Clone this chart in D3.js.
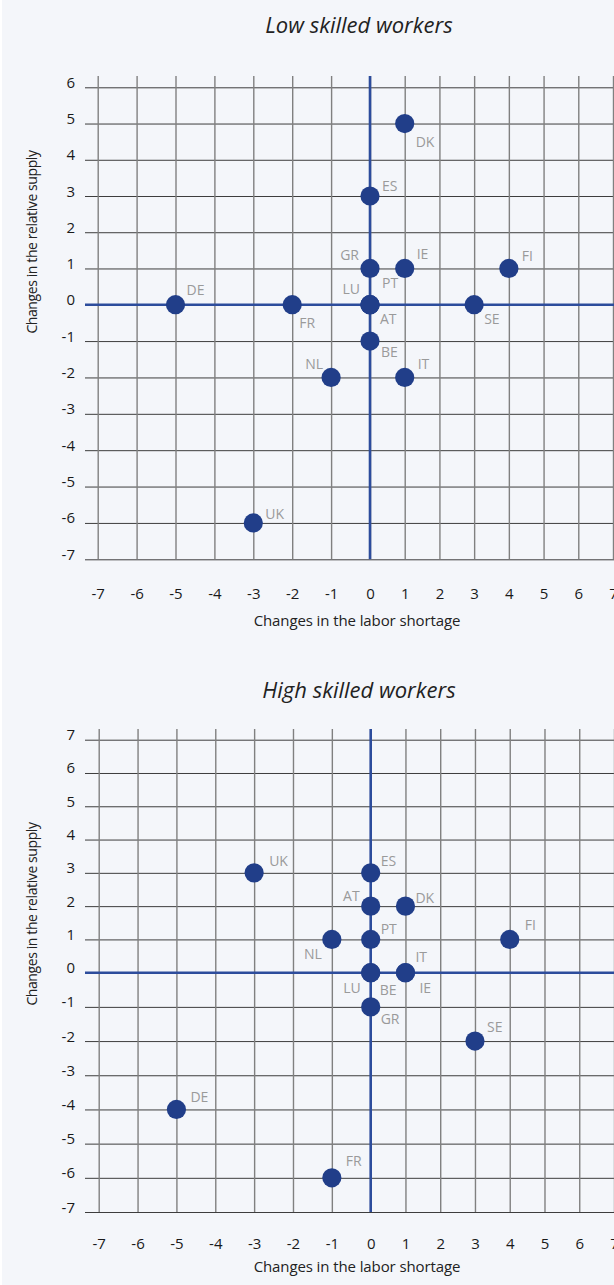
<!DOCTYPE html>
<meta charset="utf-8">
<style>
  body { margin: 0; background: #f4f6fa; }
  svg { display: block; }
  text { font-family: "Open Sans", sans-serif; }
</style>
<svg width="614" height="1285"></svg>
<script src="https://d3js.org/d3.v7.min.js"></script>
<script>
// tick labels
var ticksX = [-7, -6, -5, -4, -3, -2, -1, 0, 1, 2, 3, 4, 5, 6, 7];
var lowTicksY = [-7, -6, -5, -4, -3, -2, -1, 0, 1, 2, 3, 4, 5, 6];
var highTicksY = [-7, -6, -5, -4, -3, -2, -1, 0, 1, 2, 3, 4, 5, 6, 7];

// low skilled workers
var lowCountries = ["DK", "ES", "GR", "IE", "FI", "PT", "LU", "AT", "DE", "FR", "SE", "BE", "NL", "IT", "UK"];
var lowShortage  = [1, 0, 0, 1, 4, 0, 0, 0, -5, -2, 3, 0, -1, 1, -3];
var lowSupply    = [5, 3, 1, 1, 1, 0, 0, 0, 0, 0, 0, -1, -2, -2, -6];

// high skilled workers
var highCountries = ["UK", "ES", "AT", "DK", "PT", "NL", "FI", "LU", "BE", "IT", "IE", "GR", "SE", "DE", "FR"];
var highShortage  = [-3, 0, 0, 1, 0, -1, 4, 0, 0, 1, 1, 0, 3, -5, -1];
var highSupply    = [3, 3, 2, 2, 1, 1, 1, 0, 0, 0, 0, -1, -2, -4, -6];

var xTitle = "Changes in the labor shortage";
var yTitle = "Changes in the relative supply";

// where each country label sits next to its dot (dx < 0 means right-aligned)
var lowLabelPos = {
  DK: [11, 23], ES: [12, -5], GR: [-11, -8], IE: [12, -9], FI: [13, -7],
  PT: [12, -17], LU: [-10, -11], AT: [10, 19], DE: [11, -10], FR: [7, 23],
  SE: [10, 19], BE: [11, 16], NL: [-8, -8], IT: [13, -8], UK: [12, -4]
};
var highLabelPos = {
  UK: [15, -7], ES: [10, -7], AT: [-11, -5], DK: [10, -3], PT: [10, -5],
  NL: [-10, 20], FI: [15, -9], LU: [-10, 20], BE: [9, 22], IT: [10, -11],
  IE: [14, 20], GR: [10, 17], SE: [12, -9], DE: [14, -7], FR: [14, -12]
};

var svg = d3.select("svg");

svg.append("rect").attr("x", 0).attr("y", 0).attr("width", 2).attr("height", 1285).attr("fill", "#fff");

var panels = [
  {
    title: "Low skilled workers", titleY: 33,
    countries: lowCountries, sx: lowShortage, sy: lowSupply, labels: lowLabelPos,
    ticksY: lowTicksY,
    x: d3.scaleLinear().domain([-7, 0, 7]).range([97.7, 370, 613]),
    y: d3.scaleLinear().domain([-7, 0, 6]).range([559.3, 304.7, 87.3]),
    gridTop: 76, tickY: 599, xTitleY: 626, yTitleMid: 242
  },
  {
    title: "High skilled workers", titleY: 698,
    countries: highCountries, sx: highShortage, sy: highSupply, labels: highLabelPos,
    ticksY: highTicksY,
    x: d3.scaleLinear().domain([-7, 0, 7]).range([98.7, 370.7, 614]),
    y: d3.scaleLinear().domain([-7, 0, 7]).range([1212, 972.7, 739.7]),
    gridTop: 729, tickY: 1249, xTitleY: 1272, yTitleMid: 914
  }
];

var gridLeft = 85, gridRight = 614;
var fmt = function(d) { return String(d); }; // plain hyphen, as in the original

panels.forEach(function(p) {
  var g = svg.append("g");
  var bottom = p.y(-7);

  g.append("text")
    .attr("x", 359).attr("y", p.titleY)
    .attr("text-anchor", "middle")
    .attr("font-size", 22).attr("font-style", "italic")
    .attr("fill", "#222")
    .text(p.title);

  // horizontal grid + y tick labels
  var yAxis = g.append("g")
    .attr("transform", "translate(" + gridLeft + ",0)")
    .call(d3.axisLeft(p.y).tickValues(p.ticksY).tickSize(-(gridRight - gridLeft)).tickPadding(10).tickFormat(fmt));
  yAxis.select(".domain").remove();
  yAxis.selectAll("line").attr("stroke", "#3d3d3d").attr("stroke-width", 1);
  yAxis.selectAll("text").attr("dy", 0).attr("font-size", 15).attr("fill", "#1a1a1a")
    .attr("font-family", "'Open Sans', sans-serif");

  // vertical grid + x tick labels
  var xAxis = g.append("g")
    .attr("transform", "translate(0," + bottom + ")")
    .call(d3.axisBottom(p.x).tickValues(ticksX).tickSize(-(bottom - p.gridTop)).tickFormat(fmt));
  xAxis.select(".domain").remove();
  xAxis.selectAll("line").attr("stroke", "#808080").attr("stroke-width", 1.4);
  xAxis.selectAll("text").attr("y", p.tickY - bottom).attr("dy", 0).attr("font-size", 15).attr("fill", "#1a1a1a")
    .attr("font-family", "'Open Sans', sans-serif");

  // zero lines
  g.append("line")
    .attr("x1", gridLeft).attr("x2", gridRight)
    .attr("y1", p.y(0)).attr("y2", p.y(0))
    .attr("stroke", "#2c4c9c").attr("stroke-width", 2.6);
  g.append("line")
    .attr("x1", p.x(0)).attr("x2", p.x(0))
    .attr("y1", p.gridTop).attr("y2", bottom)
    .attr("stroke", "#2c4c9c").attr("stroke-width", 2.6);

  var idx = d3.range(p.countries.length);

  g.selectAll("circle.dot")
    .data(idx)
    .enter().append("circle")
    .attr("class", "dot")
    .attr("cx", function(i) { return p.x(p.sx[i]); })
    .attr("cy", function(i) { return p.y(p.sy[i]); })
    .attr("r", 9.6)
    .attr("fill", "#213e89");

  g.selectAll("text.lbl")
    .data(idx)
    .enter().append("text")
    .attr("class", "lbl")
    .attr("x", function(i) { return p.x(p.sx[i]) + p.labels[p.countries[i]][0]; })
    .attr("y", function(i) { return p.y(p.sy[i]) + p.labels[p.countries[i]][1]; })
    .attr("text-anchor", function(i) { return p.labels[p.countries[i]][0] < 0 ? "end" : "start"; })
    .attr("font-size", 14)
    .attr("fill", "#9a9a9a")
    .text(function(i) { return p.countries[i]; });

  // axis titles
  g.append("text")
    .attr("x", 357).attr("y", p.xTitleY)
    .attr("text-anchor", "middle")
    .attr("font-size", 15).attr("letter-spacing", -0.1)
    .attr("fill", "#222")
    .text(xTitle);

  g.append("text")
    .attr("transform", "translate(37," + p.yTitleMid + ") rotate(-90)")
    .attr("text-anchor", "middle")
    .attr("font-size", 14).attr("letter-spacing", -0.4)
    .attr("fill", "#222")
    .text(yTitle);
});
</script>
